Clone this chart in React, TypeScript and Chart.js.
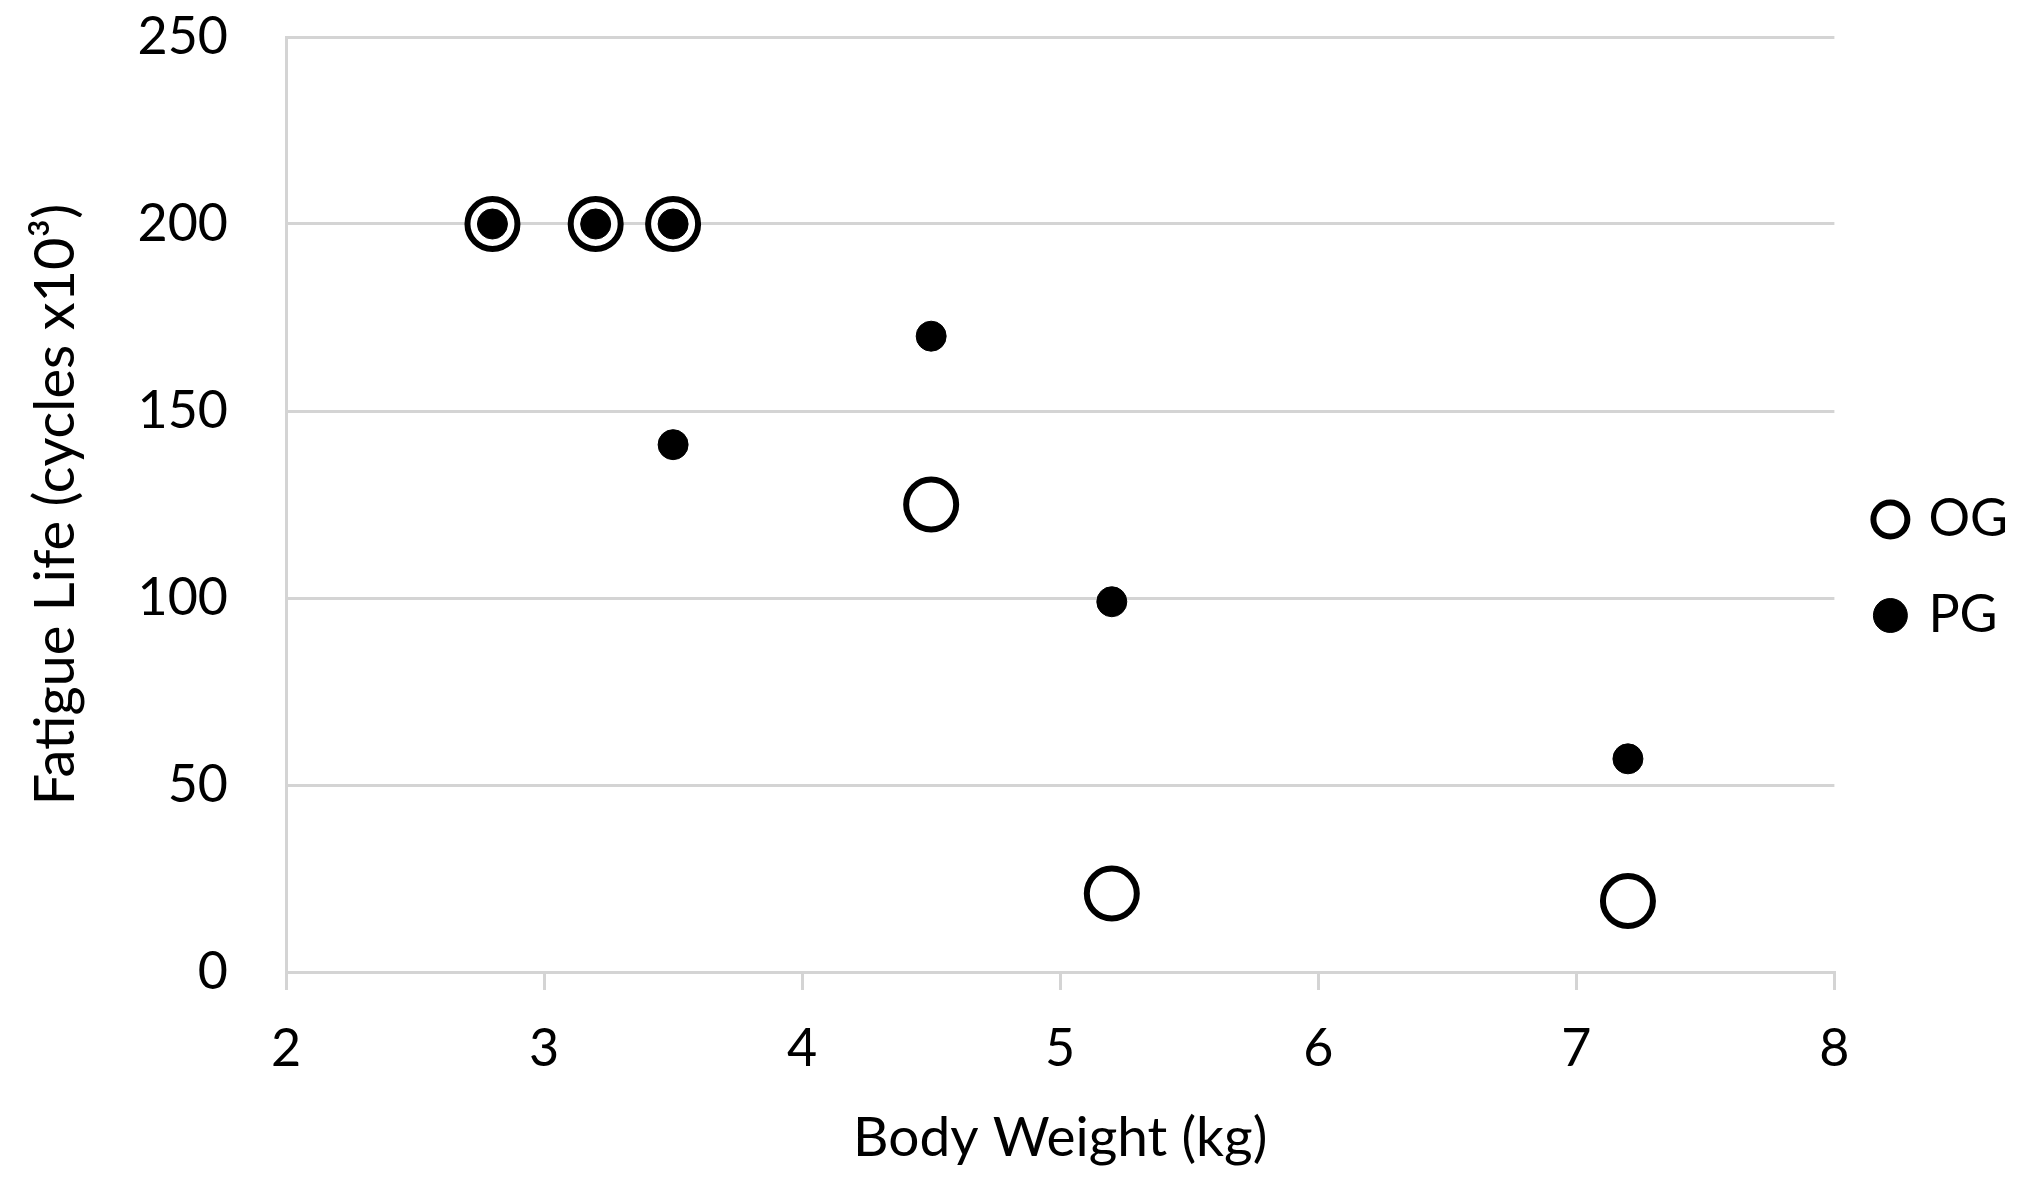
import { useEffect, useRef } from "react";
import { Chart, registerables } from "chart.js";

Chart.register(...registerables);

// values
const seriesNames = ["OG", "PG"];
const ogWeight = [2.8, 3.2, 3.5, 4.5, 5.2, 7.2];
const ogLife = [200, 200, 200, 125, 21, 19];
const pgWeight = [2.8, 3.2, 3.5, 3.5, 4.5, 5.2, 7.2];
const pgLife = [200, 200, 200, 141, 170, 99, 57];
const xRange = [2, 8, 1]; // min, max, step
const yRange = [0, 250, 50];
const xTitle = "Body Weight (kg)";
const yTitle = "Fatigue Life (cycles x10\u00b3)";

const FONT = "Lato";
const GRID = "#d4d4d4";

export default function App() {
  const canvasRef = useRef<HTMLCanvasElement | null>(null);

  useEffect(() => {
    document.body.style.margin = "0";
    if (!canvasRef.current) return;
    const ctx = canvasRef.current.getContext("2d");
    if (!ctx) return;

    const chart = new Chart(ctx, {
      type: "scatter",
      data: {
        datasets: [
          {
            label: seriesNames[0],
            data: ogWeight.map((x, i) => ({ x, y: ogLife[i] })),
            pointRadius: 25,
            borderWidth: 6,
            borderColor: "#000",
            backgroundColor: "#fff",
            order: 1,
          },
          {
            label: seriesNames[1],
            data: pgWeight.map((x, i) => ({ x, y: pgLife[i] })),
            pointRadius: 15,
            borderWidth: 1,
            borderColor: "#000",
            backgroundColor: "#000",
            order: 0,
          },
        ],
      },
      options: {
        responsive: false,
        animation: false,
        devicePixelRatio: 1,
        layout: { padding: { left: 0, top: 37, right: 13, bottom: 99 } },
        plugins: {
          tooltip: { enabled: false },
          legend: {
            position: "right",
            align: "center",
            labels: {
              usePointStyle: true,
              pointStyle: "circle",
              boxWidth: 24,
              boxHeight: 24,
              padding: 44,
              color: "#000",
              font: { family: FONT, size: 52 },
              sort: (a: any, b: any) => a.datasetIndex - b.datasetIndex,
            },
          },
        },
        scales: {
          x: {
            type: "linear",
            min: xRange[0],
            max: xRange[1],
            ticks: {
              stepSize: xRange[2],
              padding: 28,
              color: "#000",
              font: { family: FONT, size: 52 },
            },
            grid: {
              drawOnChartArea: false,
              drawTicks: true,
              tickLength: 18,
              color: GRID,
              lineWidth: 3,
            },
            border: { color: GRID, width: 3 },
            title: {
              display: true,
              text: xTitle,
              color: "#000",
              font: { family: FONT, size: 55 },
              padding: { top: 0, bottom: -73 },
            },
            afterFit: (scale: any) => {
              scale.height = 126;
            },
          },
          y: {
            type: "linear",
            min: yRange[0],
            max: yRange[1],
            ticks: {
              stepSize: yRange[2],
              padding: 58,
              color: "#000",
              font: { family: FONT, size: 52 },
            },
            grid: {
              drawTicks: false,
              color: GRID,
              lineWidth: 3,
            },
            border: { color: GRID, width: 3 },
            title: {
              display: true,
              text: yTitle,
              color: "#000",
              font: { family: FONT, size: 56 },
              padding: { top: 22, bottom: 0 },
            },
            afterFit: (scale: any) => {
              scale.width = 286;
              scale.paddingTop = 0;
              scale.paddingBottom = 0;
            },
          },
        },
      },
    } as any);

    return () => {
      chart.destroy();
    };
  }, []);

  return (
    <div style={{ width: 2031, height: 1197, background: "#fff" }}>
      <canvas ref={canvasRef} width={2031} height={1197} style={{ display: "block" }} />
    </div>
  );
}
